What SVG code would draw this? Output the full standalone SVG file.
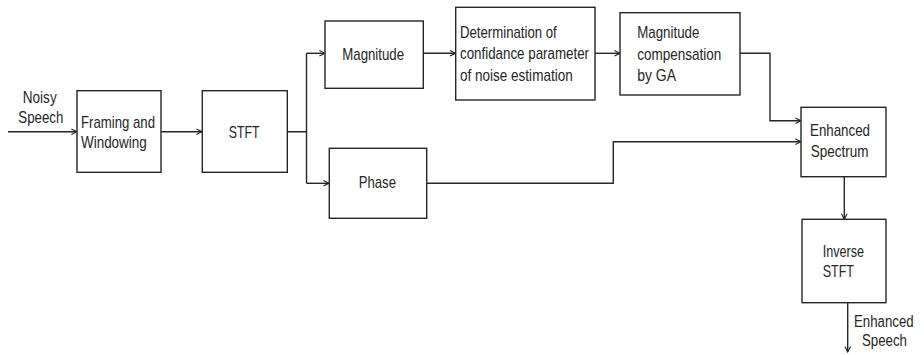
<svg xmlns="http://www.w3.org/2000/svg" width="924" height="355" viewBox="0 0 924 355">
<style>
.box{fill:#fff;stroke:#262626;stroke-width:1.4}
.ln{fill:none;stroke:#262626;stroke-width:1.4}
text{font-family:"Liberation Sans",Arial,sans-serif;font-size:17px;fill:#262626}
</style>
<defs>
<marker id="arr" viewBox="0 0 10 10" refX="9" refY="5" markerWidth="7" markerHeight="7" markerUnits="userSpaceOnUse" orient="auto">
<path d="M1,1 L9,5 L1,9" fill="none" stroke="#262626" stroke-width="1.6"/>
</marker>
</defs>
<rect width="924" height="355" fill="#fff"/>
<g id="connectors">
<path class="ln" d="M8,131.7 H77" marker-end="url(#arr)"/>
<path class="ln" d="M161,131.7 H202" marker-end="url(#arr)"/>
<path class="ln" d="M287,131.7 H306.5 M306.5,53.3 V183.3"/>
<path class="ln" d="M306.5,53.3 H325" marker-end="url(#arr)"/>
<path class="ln" d="M306.5,183.3 H329" marker-end="url(#arr)"/>
<path class="ln" d="M423,53.3 H455.5" marker-end="url(#arr)"/>
<path class="ln" d="M595,53.3 H620" marker-end="url(#arr)"/>
<path class="ln" d="M740,53.3 H770 V120.7 H801" marker-end="url(#arr)"/>
<path class="ln" d="M426.7,183.3 H613.3 V141.7 H801" marker-end="url(#arr)"/>
<path class="ln" d="M844.3,176.7 V219.3" marker-end="url(#arr)"/>
<path class="ln" d="M847.7,302.7 V352" marker-end="url(#arr)"/>
</g>
<g id="input-label">
<text x="39.7" y="102.7" text-anchor="middle" textLength="34" lengthAdjust="spacingAndGlyphs">Noisy</text>
<text x="40.8" y="122.7" text-anchor="middle" textLength="45" lengthAdjust="spacingAndGlyphs">Speech</text>
</g>
<g id="framing">
<rect class="box" x="77" y="90.7" width="84" height="81.6"/>
<text x="81" y="128.3" textLength="74" lengthAdjust="spacingAndGlyphs">Framing and</text>
<text x="81" y="148.3" textLength="65.7" lengthAdjust="spacingAndGlyphs">Windowing</text>
</g>
<g id="stft">
<rect class="box" x="202.3" y="90.7" width="85" height="81.6"/>
<text x="228.7" y="138.3" textLength="30.7" lengthAdjust="spacingAndGlyphs">STFT</text>
</g>
<g id="magnitude">
<rect class="box" x="325" y="21" width="98.3" height="67.3"/>
<text x="342.3" y="60" textLength="61.7" lengthAdjust="spacingAndGlyphs">Magnitude</text>
</g>
<g id="phase">
<rect class="box" x="329.3" y="148.3" width="97.4" height="70"/>
<text x="358.7" y="188.3" textLength="37.3" lengthAdjust="spacingAndGlyphs">Phase</text>
</g>
<g id="determination">
<rect class="box" x="455.7" y="7.3" width="139.3" height="92.7"/>
<text x="460" y="37.7" textLength="96.7" lengthAdjust="spacingAndGlyphs">Determination of</text>
<text x="460" y="59.3" textLength="129" lengthAdjust="spacingAndGlyphs">confidance parameter</text>
<text x="460" y="81" textLength="112.7" lengthAdjust="spacingAndGlyphs">of noise estimation</text>
</g>
<g id="compensation">
<rect class="box" x="620" y="12.7" width="120" height="82.3"/>
<text x="637.3" y="38.3" textLength="62" lengthAdjust="spacingAndGlyphs">Magnitude</text>
<text x="637.3" y="60" textLength="84" lengthAdjust="spacingAndGlyphs">compensation</text>
<text x="637.3" y="81" textLength="38.7" lengthAdjust="spacingAndGlyphs">by GA</text>
</g>
<g id="enhanced-spectrum">
<rect class="box" x="801" y="107.3" width="85" height="69.4"/>
<text x="810" y="136" textLength="60" lengthAdjust="spacingAndGlyphs">Enhanced</text>
<text x="810.7" y="156.7" textLength="57.7" lengthAdjust="spacingAndGlyphs">Spectrum</text>
</g>
<g id="inverse-stft">
<rect class="box" x="802" y="219.3" width="84" height="83.4"/>
<text x="822.7" y="256.7" textLength="41.3" lengthAdjust="spacingAndGlyphs">Inverse</text>
<text x="822.7" y="276.7" textLength="31.3" lengthAdjust="spacingAndGlyphs">STFT</text>
</g>
<g id="output-label">
<text transform="translate(854,327) scale(0.78,1)" x="0" y="0">Enhanced</text>
<text transform="translate(862,346) scale(0.78,1)" x="0" y="0">Speech</text>
</g>
</svg>
